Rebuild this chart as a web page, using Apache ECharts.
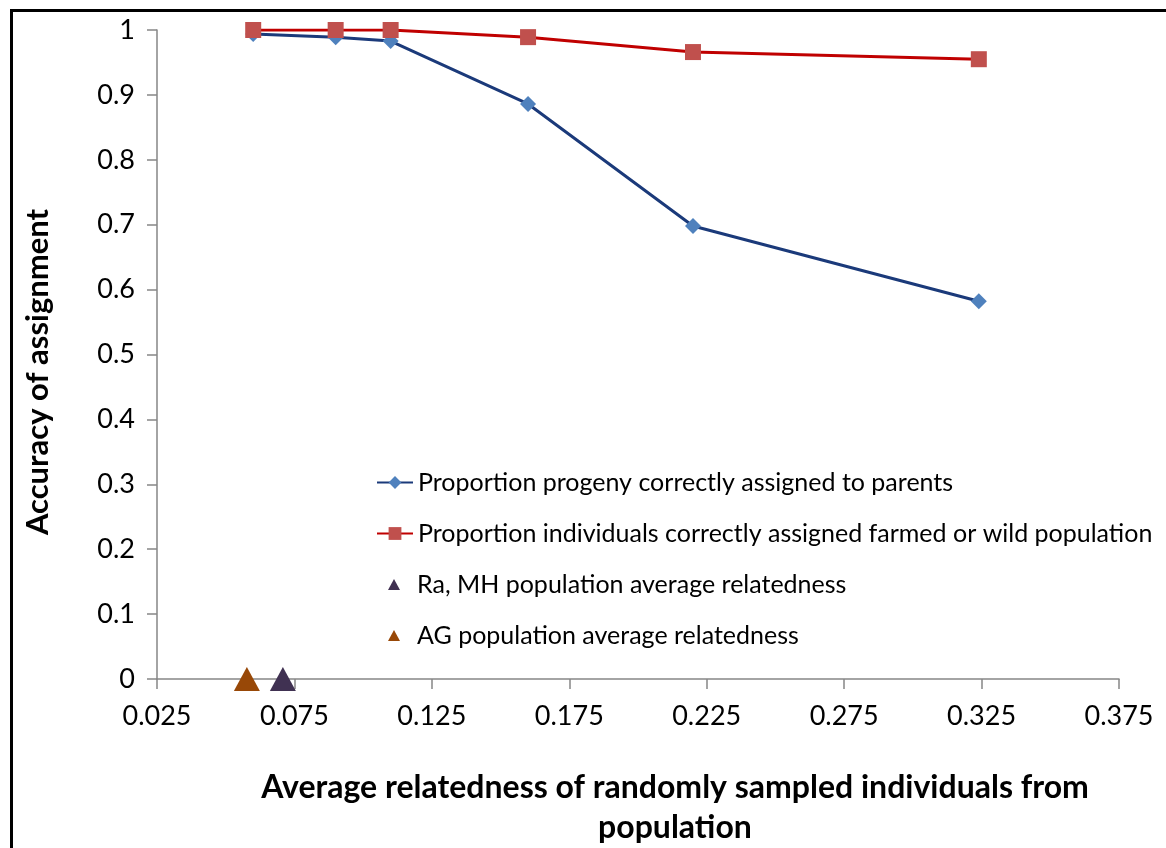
<!DOCTYPE html>
<html><head><meta charset="utf-8">
<script src="https://cdn.jsdelivr.net/npm/echarts@6/dist/echarts.min.js"></script>
<style>html,body{margin:0;padding:0;background:#fff}#c{width:1166px;height:848px}</style>
</head><body><div id="c"></div>
<script>
const xValues = [0.06, 0.09, 0.11, 0.16, 0.22, 0.324];
const progenyValues = [0.994, 0.989, 0.983, 0.886, 0.698, 0.582];
const farmedWildValues = [1.0, 1.0, 1.0, 0.989, 0.966, 0.955];
const raMhPoint = [0.0708, 0];
const agPoint = [0.0577, 0];
const seriesNames = [
  'Proportion progeny correctly assigned to parents',
  'Proportion individuals correctly assigned farmed or wild population',
  'Ra, MH population average relatedness',
  'AG population average relatedness'
];
const xTitle = 'Average relatedness of randomly sampled individuals from\npopulation';
const yTitle = 'Accuracy of assignment';

const FONT = 'Lato, "Open Sans", sans-serif';
const chart = echarts.init(document.getElementById('c'), null, {renderer: 'canvas'});
const pair = (xs, ys) => xs.map((x, i) => [x, ys[i]]);
const axisColor = '#868686';
const legendText = {fontFamily: FONT, fontSize: 25, color: '#000'};

chart.setOption({
  animation: false,
  backgroundColor: '#fff',
  grid: {left: 157, right: 47, top: 30, bottom: 169, containLabel: false},
  xAxis: {
    type: 'value', min: 0.025, max: 0.375, interval: 0.05,
    axisLine: {show: true, lineStyle: {color: axisColor, width: 1.5}},
    axisTick: {show: true, length: 10, inside: false, lineStyle: {color: axisColor, width: 1.5}},
    splitLine: {show: false},
    axisLabel: {fontFamily: FONT, fontSize: 27, color: '#000', margin: 24,
      formatter: v => v.toFixed(3)}
  },
  yAxis: {
    type: 'value', min: 0, max: 1, interval: 0.1,
    axisLine: {show: true, lineStyle: {color: axisColor, width: 1.5}},
    axisTick: {show: true, length: 10, lineStyle: {color: axisColor, width: 1.5}},
    splitLine: {show: false},
    axisLabel: {fontFamily: FONT, fontSize: 27, color: '#000', margin: 22,
      formatter: v => String(Math.round(v * 10) / 10)}
  },
  legend: [
    {
      orient: 'vertical', left: 376, top: 470, padding: 0,
      itemWidth: 36, itemHeight: 16, itemGap: 26,
      textStyle: legendText,
      data: [seriesNames[0], seriesNames[1]]
    },
    {
      orient: 'vertical', left: 388, top: 572, padding: 0,
      itemWidth: 12, itemHeight: 11, itemGap: 26,
      textStyle: Object.assign({padding: [0, 0, 0, 12]}, legendText),
      data: [{name: seriesNames[2], icon: 'triangle'}, {name: seriesNames[3], icon: 'triangle'}]
    }
  ],
  graphic: [
    {type: 'rect', left: 9, top: 8, shape: {width: 1200, height: 900},
      style: {fill: 'none', stroke: '#000', lineWidth: 3}, silent: true},
    {type: 'text', x: 675, y: 768,
      style: {text: xTitle, fontFamily: FONT, fontWeight: 'bold', fontSize: 32, fill: '#000',
        textAlign: 'center', lineHeight: 40}},
    {type: 'text', x: 38, y: 372, rotation: Math.PI / 2,
      style: {text: yTitle, fontFamily: FONT, fontWeight: 'bold', fontSize: 31, fill: '#000',
        textAlign: 'center', textVerticalAlign: 'middle'}}
  ],
  series: [
    {name: seriesNames[0], type: 'line', data: pair(xValues, progenyValues),
      symbol: 'diamond', symbolSize: 16, z: 3,
      lineStyle: {color: '#1B3A7A', width: 3},
      itemStyle: {color: '#4F81BD'}},
    {name: seriesNames[1], type: 'line', data: pair(xValues, farmedWildValues),
      symbol: 'rect', symbolSize: 16, z: 4,
      lineStyle: {color: '#C00000', width: 3},
      itemStyle: {color: '#C0504D'}},
    {name: seriesNames[2], type: 'scatter', data: [raMhPoint],
      symbol: 'triangle', symbolSize: [26, 24], z: 5,
      itemStyle: {color: '#403152', opacity: 1}},
    {name: seriesNames[3], type: 'scatter', data: [agPoint],
      symbol: 'triangle', symbolSize: [26, 24], z: 5,
      itemStyle: {color: '#984807', opacity: 1}}
  ]
});
</script></body></html>
